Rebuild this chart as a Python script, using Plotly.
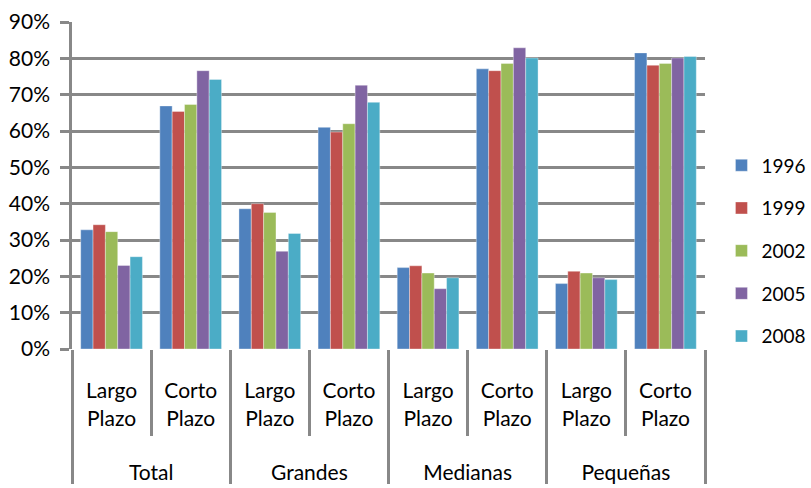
import plotly.graph_objects as go

groups = ["Total", "Total", "Grandes", "Grandes", "Medianas", "Medianas", "Pequeñas", "Pequeñas"]
terms = [" <br>Largo<br>Plazo<br> ", " <br>Corto<br>Plazo<br> "] * 4
years = ["1996", "1999", "2002", "2005", "2008"]
values = {
    "1996": [32.8, 66.9, 38.6, 61.0, 22.4, 77.1, 18.0, 81.5],
    "1999": [34.2, 65.4, 40.0, 59.7, 22.9, 76.6, 21.4, 78.1],
    "2002": [32.3, 67.3, 37.6, 62.0, 20.9, 78.6, 20.9, 78.6],
    "2005": [23.0, 76.6, 26.9, 72.6, 16.6, 82.9, 19.6, 80.1],
    "2008": [25.4, 74.2, 31.8, 67.9, 19.6, 80.1, 19.1, 80.5],
}
colors = ["#4F81BD", "#C0504D", "#9BBB59", "#8064A2", "#4BACC6"]
yticks = [0, 10, 20, 30, 40, 50, 60, 70, 80, 90]

fig = go.Figure()
for yr, col in zip(years, colors):
    fig.add_trace(go.Bar(
        x=[groups, terms],
        y=[v / 100 for v in values[yr]],
        name=yr,
        legendgroup=yr,
        marker=dict(color=col, line=dict(color="rgba(255,255,255,0.6)", width=0.6)),
    ))

FONT = "Lato"
GRID = "#888888"
fig.update_layout(
    width=811, height=488,
    margin=dict(l=72, r=106, t=22, b=139, autoexpand=False),
    paper_bgcolor="white", plot_bgcolor="white",
    barmode="group", bargap=0.22, bargroupgap=0,
    font=dict(family=FONT, size=21, color="black"),
    legend=dict(x=1.026, xanchor="left", y=0.30, yanchor="middle",
                font=dict(size=19), tracegroupgap=15,
                itemwidth=30, borderwidth=0, traceorder="grouped"),
    showlegend=True,
)
fig.update_xaxes(
    type="multicategory",
    automargin=False,
    showline=False,
    showgrid=False,
    ticks="outside", tickson="boundaries", ticklen=86,
    tickcolor=GRID, tickwidth=2.5,
    showdividers=True, dividercolor=GRID, dividerwidth=2.5,
    tickfont=dict(size=21),
)
fig.update_yaxes(
    automargin=False,
    range=[0, 0.9],
    tickvals=[t / 100 for t in yticks],
    ticktext=[f"{t}%" for t in yticks],
    showgrid=True, gridcolor=GRID, gridwidth=2.5,
    showline=True, linecolor=GRID, linewidth=2.5,
    ticks="outside", ticklen=9, tickcolor=GRID, tickwidth=2.5,
    ticklabelstandoff=6,
    zeroline=False,
    tickfont=dict(size=21),
)
fig.write_html("out.html")
